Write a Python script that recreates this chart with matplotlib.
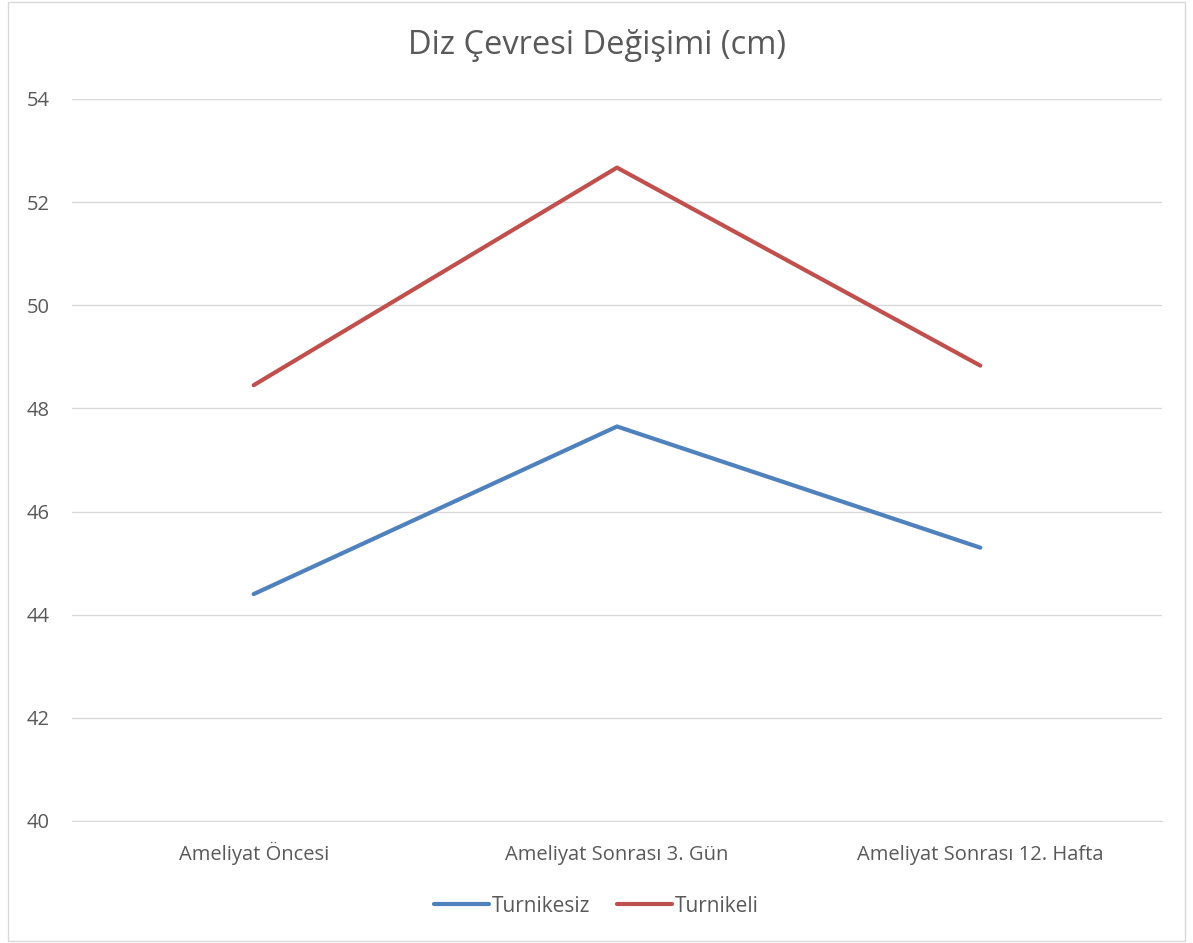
import matplotlib
matplotlib.use("Agg")
import matplotlib.pyplot as plt
from matplotlib.patches import Rectangle

categories = ["Ameliyat Öncesi", "Ameliyat Sonrası 3. Gün", "Ameliyat Sonrası 12. Hafta"]
turnikesiz = [44.4, 47.65, 45.3]
turnikeli = [48.45, 52.67, 48.83]
yticks = [40, 42, 44, 46, 48, 50, 52, 54]

plt.rcParams['font.family'] = ['Open Sans', 'DejaVu Sans']
txt = '#595959'

fig = plt.figure(figsize=(11.93, 9.43), dpi=100)
ax = fig.add_axes([72/1193, 1-821/943, (1162-72)/1193, (821-99)/943])

x = range(len(categories))
ax.plot(x, turnikesiz, color='#4F81BD', lw=3.0, label='Turnikesiz', solid_capstyle='round')
ax.plot(x, turnikeli, color='#C0504D', lw=3.0, label='Turnikeli', solid_capstyle='round')

ax.set_xlim(-0.5, len(categories)-0.5)
ax.set_ylim(40, 54)
ax.set_yticks(yticks)
ax.set_yticklabels([str(v) for v in yticks], color=txt, fontsize=14.5)
ax.set_xticks(list(x))
ax.set_xticklabels(categories, color=txt, fontsize=14.5)
for lab in ax.get_xticklabels():
    lab.set_va('baseline')
ax.tick_params(axis='both', length=0)
ax.tick_params(axis='y', pad=16)
ax.tick_params(axis='x', pad=28)
ax.grid(axis='y', color='#D9D9D9', lw=1)
ax.set_axisbelow(True)
for s in ['top', 'right', 'left']:
    ax.spines[s].set_visible(False)
ax.spines['bottom'].set_color('#D9D9D9')

fig.text(0.5, 1-46/943, "Diz Çevresi Değişimi (cm)", ha='center', va='center', fontsize=23.5, color=txt)

leg = fig.legend(loc='center', bbox_to_anchor=(0.5, 1-906/943), ncol=2, frameon=False,
                 fontsize=15, handlelength=2.6, handletextpad=0.15, columnspacing=1.3)
for t in leg.get_texts():
    t.set_color(txt)

fig.patches.append(Rectangle((8/1193, 0.002), 1-16/1193, 0.996, transform=fig.transFigure,
                             fill=False, edgecolor='#D9D9D9', lw=1))

fig.savefig('out.png', dpi=100)
